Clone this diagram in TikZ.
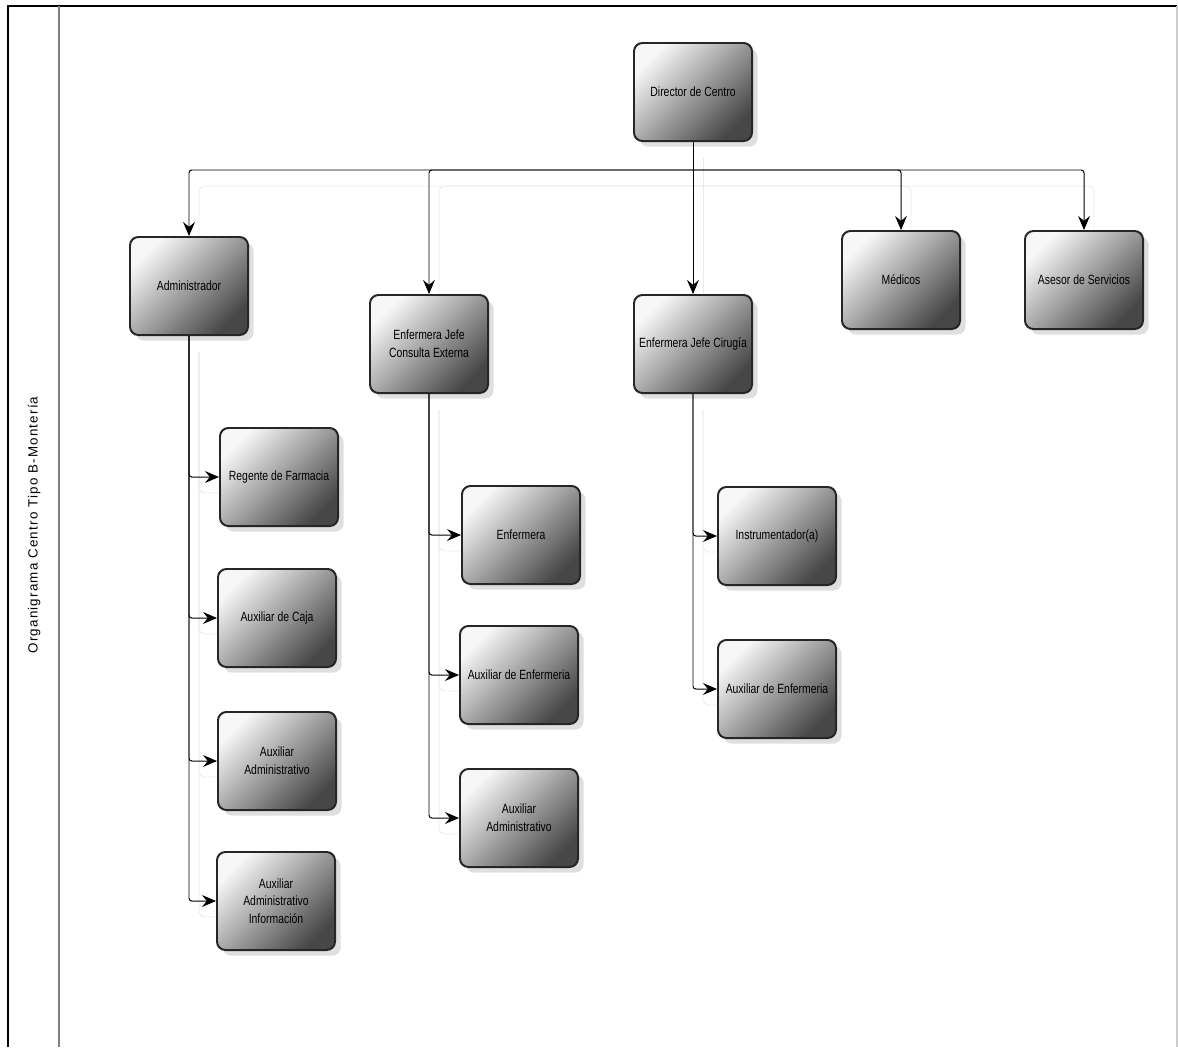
\documentclass[tikz,border=0pt]{standalone}
\usepackage{fontspec}
\setmainfont{Liberation Sans}
\newfontfamily\orgfont[FakeStretch=0.78]{Liberation Sans}
\newfontfamily\titlefont[LetterSpace=9]{Liberation Sans}
\usetikzlibrary{arrows.meta, shadows, backgrounds}
\tikzset{
    puesto/.style={
        draw=black!85, line width=1.4pt, rounded corners=6pt,
        minimum width=2.95cm, minimum height=2.45cm, align=center,
        font=\orgfont\fontsize{9.5}{12.5}\selectfont,
        shading=axis, top color=black!3, middle color=black!32, bottom color=black!72,
        shading angle=45,
        drop shadow={shadow xshift=4pt, shadow yshift=-4pt, opacity=0.25}
    },
    enlace/.style={
        draw=black, line width=0.7pt, rounded corners=2pt,
        -{Stealth[length=10pt, width=8.5pt, inset=3.5pt]}
    },
    enlace sombra/.style={
        draw=black!8, line width=0.6pt, rounded corners=4pt,
        transform canvas={shift={(10,16)}}
    }
}
\newcommand\organigramaEnlaces[1]{%
    \draw[#1] (director) -- (cirugia);
    \draw[#1] (bus) -| (admin);
    \draw[#1] (bus) -| (consulta);
    \draw[#1] (bus) -| (medicos);
    \draw[#1] (bus) -| (asesor);
    \foreach \hijo in {regente, caja, auxadm, auxinfo}
        \draw[#1] (admin.south) |- (\hijo);
    \foreach \hijo in {enfermera, auxenf, auxadmce}
        \draw[#1] (consulta.south) |- (\hijo);
    \foreach \hijo in {instrum, auxenfci}
        \draw[#1] (cirugia.south) |- (\hijo);
}
\begin{document}
\begin{tikzpicture}[x=0.025cm, y=-0.025cm]
\useasboundingbox (0,0) rectangle (1178,1047);

% Marco y franja del titulo
\draw[line width=1.2pt] (8,1047) -- (8,6) -- (1177,6);
\draw[black!20, line width=0.8pt] (1177,6) -- (1177,1047);
\draw[black!50, line width=1pt] (59,6) -- (59,1047);
\node[rotate=90, font=\titlefont\fontsize{9.5}{11}\selectfont] (titulo) at (34,525) {Organigrama Centro Tipo B-Montería};

% Primer nivel
\node[puesto] (director) at (693,92) {Director de Centro};
\coordinate (bus) at (693,170);

% Segundo nivel
\node[puesto] (admin) at (189,286) {Administrador};
\node[puesto] (consulta) at (429,344) {Enfermera Jefe\\Consulta Externa};
\node[puesto] (cirugia) at (693,344) {Enfermera Jefe Cirugía};
\node[puesto] (medicos) at (901,280) {Médicos};
\node[puesto] (asesor) at (1084,280) {Asesor de Servicios};

% Tercer nivel
\node[puesto] (regente) at (279,477) {Regente de Farmacia};
\node[puesto] (caja) at (277,618) {Auxiliar de Caja};
\node[puesto] (auxadm) at (277,761) {Auxiliar\\Administrativo};
\node[puesto] (auxinfo) at (276,901) {Auxiliar\\Administrativo\\Información};
\node[puesto] (enfermera) at (521,535) {Enfermera};
\node[puesto] (auxenf) at (519,675) {Auxiliar de Enfermeria};
\node[puesto] (auxadmce) at (519,818) {Auxiliar\\Administrativo};
\node[puesto] (instrum) at (777,536) {Instrumentador(a)};
\node[puesto] (auxenfci) at (777,689) {Auxiliar de Enfermeria};

% Conectores y sus sombras
\begin{pgfonlayer}{background}
    \organigramaEnlaces{enlace sombra}
\end{pgfonlayer}
\organigramaEnlaces{enlace}

\end{tikzpicture}
\end{document}
